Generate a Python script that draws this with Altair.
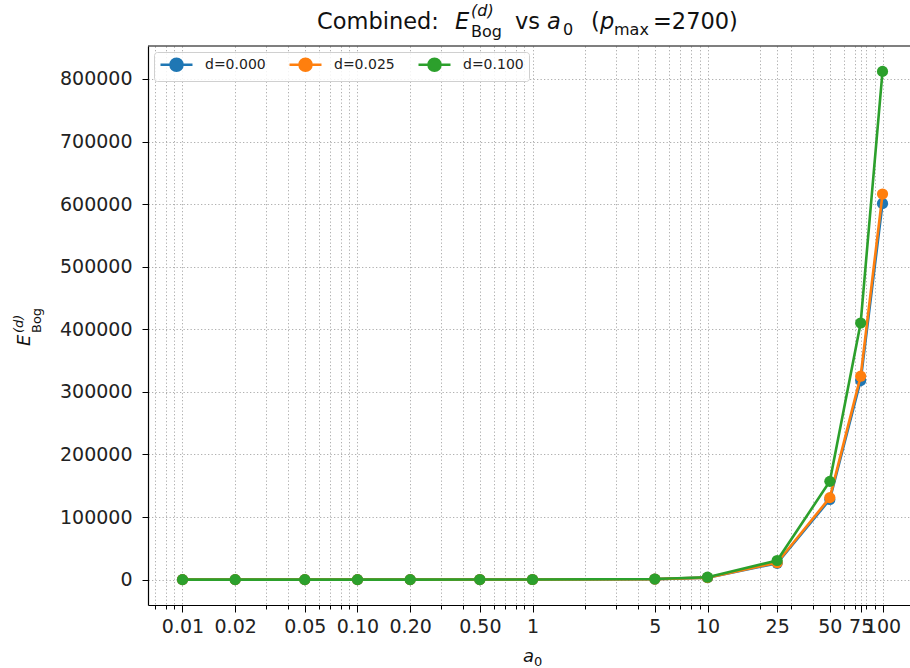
import altair as alt
import pandas as pd

# ---------------- data ----------------
a0_values = [0.01, 0.02, 0.05, 0.1, 0.2, 0.5, 1, 5, 10, 25, 50, 75, 100]
series_labels = ["d=0.000", "d=0.025", "d=0.100"]
E_d000 = [0, 0, 1, 2, 5, 30, 100, 700, 3100, 26000, 128000, 318000, 601000]
E_d025 = [0, 0, 1, 2, 5, 32, 110, 750, 3200, 27000, 131000, 325000, 616000]
E_d100 = [0, 0, 1, 2, 6, 36, 130, 900, 3800, 30500, 157000, 410000, 812000]
series_values = [E_d000, E_d025, E_d100]
series_colors = ["#1f77b4", "#ff7f0e", "#2ca02c"]

major_ticks = [0.01, 0.02, 0.05, 0.1, 0.2, 0.5, 1, 5, 10, 25, 50, 75, 100]
minor_ticks = [0.007, 0.008, 0.009, 0.03, 0.04, 0.06, 0.07, 0.08, 0.09,
               0.3, 0.4, 0.6, 0.7, 0.8, 0.9, 2, 3, 4, 6, 7, 8, 9,
               20, 30, 40, 60, 70, 80, 90]
y_ticks = [0, 100000, 200000, 300000, 400000, 500000, 600000, 700000, 800000]

rows = []
for lab, vals in zip(series_labels, series_values):
    for a, v in zip(a0_values, vals):
        rows.append({"a0": a, "E": v, "series": lab})
df = pd.DataFrame(rows)

# ---------------- layout ----------------
W, H = 762, 559
PAD_L, PAD_T = 148, 46
FONT = "DejaVu Sans"

x_scale = alt.Scale(type="log", domain=[10 ** -2.197, 10 ** 2.157], nice=False)
y_scale = alt.Scale(domain=[-40600, 852600], nice=False, zero=False)

all_x_ticks = sorted(major_ticks + minor_ticks)
major_js = "[" + ",".join(repr(v) for v in major_ticks) + "]"

x_axis = alt.Axis(
    values=all_x_ticks,
    labelExpr=f"indexof({major_js}, datum.value) >= 0 ? (datum.value < 1 ? format(datum.value, '.2f') : format(datum.value, 'd')) : ''",
    tickSize={"condition": {"test": f"indexof({major_js}, datum.value) >= 0", "value": 7}, "value": 4},
    labelOverlap=False,
    labelFlush=False,
    title=None,
    grid=True,
    gridColor="#b0b0b0",
    gridDash=[1.3, 2.2],
    gridWidth=1,
    domainColor="#000000",
    domainWidth=1.2,
    tickColor="#000000",
    tickWidth=1,
    labelFont=FONT,
    labelFontSize=19,
    labelColor="#222222",
    labelPadding=5,
)
y_axis = alt.Axis(
    values=y_ticks,
    format="d",
    title=None,
    grid=True,
    gridColor="#b0b0b0",
    gridDash=[1.3, 2.2],
    gridWidth=1,
    domainColor="#000000",
    domainWidth=1.2,
    tickColor="#000000",
    tickSize=6,
    tickWidth=1,
    labelFont=FONT,
    labelFontSize=19,
    labelColor="#222222",
    labelPadding=10,
)

# legend symbol: a line with a dot, drawn 0..32 px to the right of the symbol origin
legend_path = ("M-1,0H0.667 M2.667,0H4.333 "
               "M0.667,0A1,1 0 1,1 2.667,0A1,1 0 1,1 0.667,0Z")

color = alt.Color(
    "series:N",
    scale=alt.Scale(domain=series_labels, range=series_colors),
    legend=alt.Legend(
        title=None,
        orient="none",
        legendX=6,
        legendY=6,
        direction="horizontal",
        columns=3,
        symbolType=legend_path,
        symbolSize=144,
        symbolStrokeWidth=2.5,
        labelFont=FONT,
        labelFontSize=14,
        labelColor="#222222",
        labelOffset=31,
        columnPadding=18,
        padding=5,
        strokeColor="#d0d0d0",
        fillColor="rgba(255,255,255,0.85)",
        cornerRadius=3,
    ),
)

layers = []
for i, lab in enumerate(series_labels):
    base = alt.Chart(df).transform_filter(alt.datum.series == lab).encode(
        x=alt.X("a0:Q", scale=x_scale, axis=x_axis),
        y=alt.Y("E:Q", scale=y_scale, axis=y_axis),
        color=color,
    )
    layers.append(base.mark_line(strokeWidth=2.6))
    layers.append(base.mark_point(filled=True, size=125, opacity=1))

# top spine
one = alt.Data(values=[{"k": 0}])
layers.append(
    alt.Chart(one).mark_rule(color="#000000", strokeWidth=1.2).encode(
        x=alt.value(0), x2=alt.value(W), y=alt.value(0)
    )
)

# title and axis titles built from pieces (text, page x, page baseline y, size, style, angle)
text_pieces = [
    ("Combined:", 317, 29, 22.5, "normal", 0),
    ("E", 455, 29, 22.5, "italic", 0),
    ("(d)", 471, 16, 16, "italic", 0),
    ("Bog", 471, 37, 16, "normal", 0),
    ("vs", 515, 29, 22.5, "normal", 0),
    ("a", 547, 29, 22.5, "italic", 0),
    ("0", 563, 35, 16, "normal", 0),
    ("(", 591, 29, 22.5, "normal", 0),
    ("p", 600, 29, 22.5, "italic", 0),
    ("max", 614, 35, 16, "normal", 0),
    ("=2700)", 653, 29, 22.5, "normal", 0),
    ("a", 523, 662, 18, "italic", 0),
    ("0", 534, 666, 13, "normal", 0),
    ("E", 30, 346, 18, "italic", 270),
    ("(d)", 23, 333, 13, "italic", 270),
    ("Bog", 41, 333, 13, "normal", 270),
]
for t, px, py, fs, st, ang in text_pieces:
    layers.append(
        alt.Chart(one).mark_text(
            text=t, font=FONT, fontSize=fs, fontStyle=st, angle=ang,
            align="left", baseline="alphabetic", color="#111111",
        ).encode(x=alt.value(px - PAD_L), y=alt.value(py - PAD_T))
    )

chart = (
    alt.layer(*layers)
    .properties(
        width=W,
        height=H,
        autosize=alt.AutoSizeParams(type="none"),
        padding={"left": PAD_L, "top": PAD_T, "right": 0, "bottom": 668 - PAD_T - H},
        background="white",
    )
    .configure_view(stroke=None)
)

chart.save("out.html", embed_options={"renderer": "svg", "actions": False})
